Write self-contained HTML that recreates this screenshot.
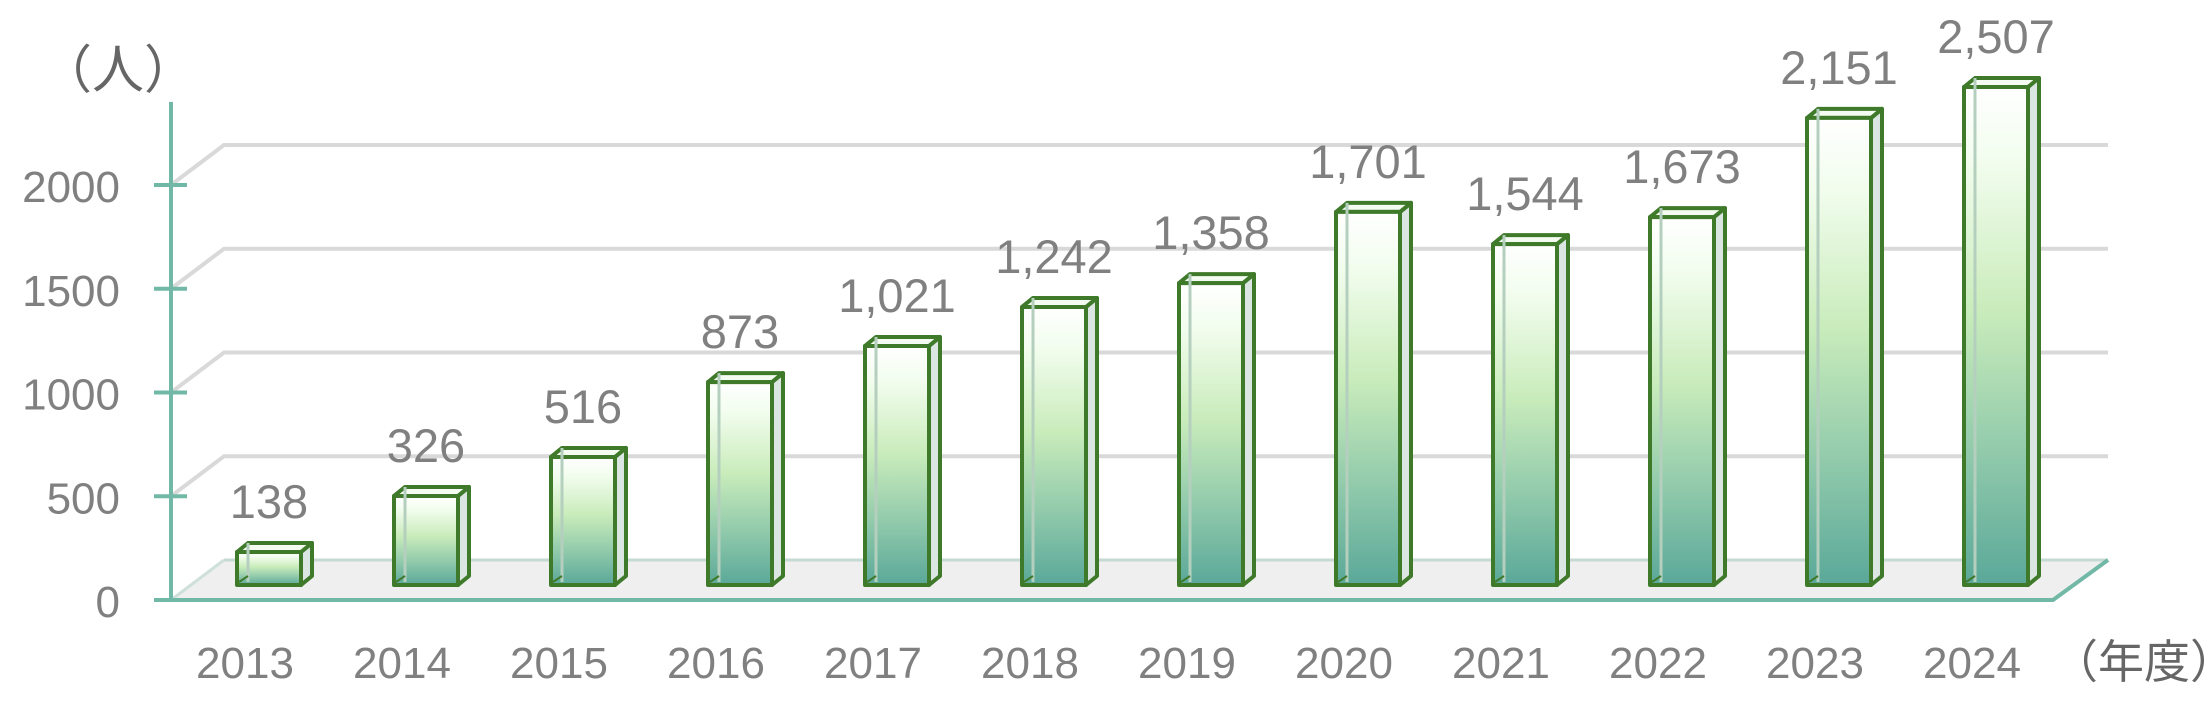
<!DOCTYPE html>
<html><head><meta charset="utf-8"><style>
html,body{margin:0;padding:0;background:#fff;}
svg{display:block;font-family:"Liberation Sans","Noto Sans CJK JP",sans-serif;}
</style></head><body>
<svg id="chart" width="2209" height="703" viewBox="0 0 2209 703">
<defs>
<linearGradient id="barGrad" x1="0" y1="0" x2="0" y2="1">
<stop offset="0" stop-color="#ffffff"/>
<stop offset="0.15" stop-color="#f2fdee"/>
<stop offset="0.45" stop-color="#c9ecbb"/>
<stop offset="0.75" stop-color="#8ec8aa"/>
<stop offset="1" stop-color="#5aa899"/>
</linearGradient>
</defs>
<g id="grid"></g>
<g id="bars"></g>
<g id="labels"></g>
</svg>
<script>
const categories = ["2013","2014","2015","2016","2017","2018","2019","2020","2021","2022","2023","2024"];
const values = [138,326,516,873,1021,1242,1358,1701,1544,1673,2151,2507];
const barHeights = [159,429,617,978,1152,1340,1455,1798,1643,1773,2251,2400];
const valueLabels = ["138","326","516","873","1,021","1,242","1,358","1,701","1,544","1,673","2,151","2,507"];
const yTicks = [0,500,1000,1500,2000];

const NS = "http://www.w3.org/2000/svg";
function mk(tag, attrs, parent){const e=document.createElementNS(NS,tag);for(const k in attrs)e.setAttribute(k,attrs[k]);parent.appendChild(e);return e;}
const grid=document.getElementById('grid'), barsG=document.getElementById('bars'), labG=document.getElementById('labels');

const axisX=171, floorFront=600, depthX=53, depthY=-40, gridRight=2108;
const gridScale=(600-185)/2000;
function yAxis(v){return floorFront - v*gridScale;}
const barBase=585;
function yBar(v){return barBase - v*gridScale;}
function xBar(i){return 237 + i*157;}
const barW=64, bdx=11, bdy=-9;

let e=mk('polygon',{points:`${axisX},${floorFront} ${axisX+depthX},${floorFront+depthY} ${gridRight},${floorFront+depthY} 2053,${floorFront}`,fill:'#efefef',stroke:'none'},grid);


e=mk('line',{x1:axisX+depthX,y1:floorFront+depthY,x2:gridRight,y2:floorFront+depthY,stroke:'#c6d9d3','stroke-width':3},grid);


e=mk('polyline',{points:`${axisX},${floorFront} 2053,${floorFront} ${gridRight},${floorFront+depthY}`,fill:'none',stroke:'#72b8a6','stroke-width':4},grid);


e=mk('line',{x1:axisX,y1:floorFront,x2:axisX+depthX,y2:floorFront+depthY,stroke:'#cfe0da','stroke-width':3},grid);



yTicks.forEach((t,i)=>{
  const y=yAxis(t);
  if(t>0){
    const g=mk('polyline',{points:`${axisX},${y} ${axisX+depthX},${y+depthY} ${gridRight},${y+depthY}`,fill:'none',stroke:'#d9d9d9','stroke-width':4},grid);
    
    
  }
  const tk=mk('line',{x1:154,y1:y,x2:187,y2:y,stroke:'#72b8a6','stroke-width':4},grid);
  
  
  const tl=mk('text',{x:120,y:y+17,'text-anchor':'end','font-size':44,fill:'#808080'},labG);
  tl.textContent=String(t);
  
  
});
e=mk('line',{x1:axisX,y1:102,x2:axisX,y2:floorFront+2,stroke:'#72b8a6','stroke-width':4},grid);



values.forEach((v,i)=>{
  const x=xBar(i), yT=yBar(barHeights[i]), yB=barBase;
  const g=mk('g',{},barsG);
  
  
  const st={stroke:'#3f7a2b','stroke-width':4,'stroke-linejoin':'round'};
  mk('polygon',Object.assign({points:`${x+barW},${yT} ${x+barW+bdx},${yT+bdy} ${x+barW+bdx},${yB+bdy} ${x+barW},${yB}`,fill:'#dbe6e2'},st),g);
  mk('polygon',Object.assign({points:`${x},${yT} ${x+bdx},${yT+bdy} ${x+barW+bdx},${yT+bdy} ${x+barW},${yT}`,fill:'#f4fbf1'},st),g);
  mk('rect',Object.assign({x:x,y:yT,width:barW,height:yB-yT,fill:'url(#barGrad)'},st),g);
  mk('line',{x1:x+bdx,y1:yT+bdy,x2:x+bdx,y2:yB-3,stroke:'#b5cfbf','stroke-width':3},g);
  mk('line',{x1:x+2,y1:yB-3,x2:x+bdx,y2:yB+bdy,stroke:'#3f7a2b','stroke-width':2},g);
  const vl=mk('text',{x:x+barW/2,y:yT+bdy-25,'text-anchor':'middle','font-size':47,fill:'#808080'},labG);
  vl.textContent=valueLabels[i];
  
  
  const cl=mk('text',{x:x+barW/2-24,y:678,'text-anchor':'middle','font-size':44,fill:'#808080'},labG);
  cl.textContent=categories[i];
  
  
});

e=mk('text',{x:40,y:88,'font-size':52,fill:'#666666'},labG);
e.textContent='（人）';


e=mk('text',{x:2052,y:678,'font-size':46,fill:'#666666'},labG);
e.textContent='（年度）';


</script>
</body></html>
